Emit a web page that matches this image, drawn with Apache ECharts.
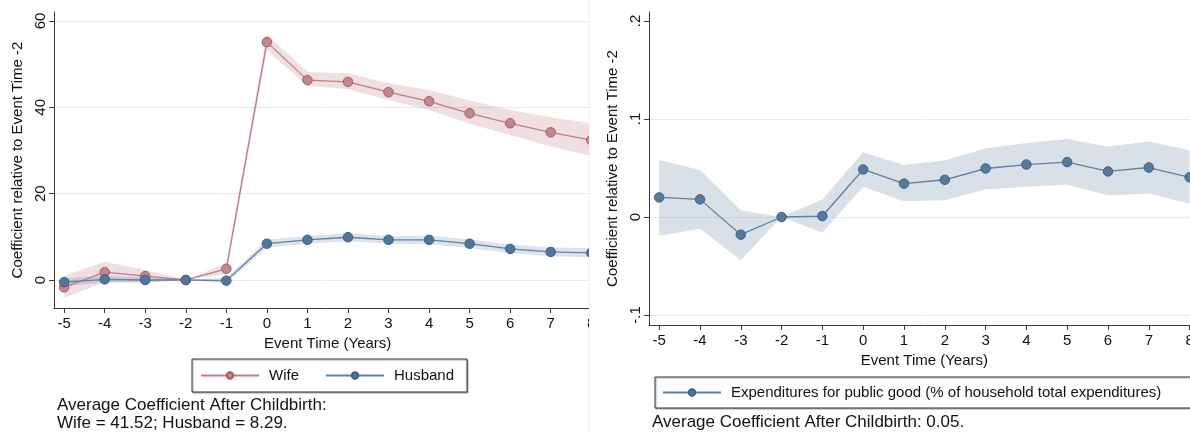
<!DOCTYPE html>
<html>
<head>
<meta charset="utf-8">
<script src="https://cdn.jsdelivr.net/npm/echarts@6/dist/echarts.min.js"></script>
<style>
  html, body { margin: 0; padding: 0; background: #fff; overflow: hidden; width: 1190px; height: 432px; }
  #leftWrap { position: absolute; left: 0; top: 0; width: 589px; height: 432px; overflow: hidden; }
  #rightWrap { position: absolute; left: 590px; top: 0; width: 600px; height: 432px; overflow: hidden; }
  #divider { position: absolute; left: 589px; top: 0; width: 1px; height: 432px; background: #f2f2f2; }
  #left { width: 640px; height: 432px; }
  #right { width: 660px; height: 432px; }
</style>
</head>
<body>
<div id="leftWrap"><div id="left"></div></div>
<div id="divider"></div>
<div id="rightWrap"><div id="right"></div></div>
<script>
// Event-study estimates, relative to event time -2
const eventTime = [-5, -4, -3, -2, -1, 0, 1, 2, 3, 4, 5, 6, 7, 8];

// Panel A: wife vs husband (point estimate and 95% CI)
const wifeCoef  = [-1.7, 1.8, 0.9, 0, 2.6, 55.1, 46.3, 45.9, 43.5, 41.4, 38.6, 36.3, 34.2, 32.4];
const wifeLow   = [-4.1, -0.5, -0.4, 0, 1.3, 53.3, 45.0, 44.2, 41.7, 39.4, 36.2, 33.6, 30.9, 28.7];
const wifeHigh  = [1.0, 4.2, 2.3, 0, 3.9, 56.9, 48.2, 47.9, 45.6, 44.0, 41.6, 39.4, 37.7, 36.3];
const husbandCoef = [-0.5, 0.15, 0.0, 0, -0.15, 8.4, 9.3, 9.9, 9.3, 9.3, 8.4, 7.2, 6.5, 6.3];
const husbandLow  = [-1.4, -0.6, -0.7, 0, -0.8, 7.5, 8.4, 9.0, 8.4, 8.3, 7.4, 6.2, 5.5, 5.2];
const husbandHigh = [0.4, 0.9, 0.7, 0, 0.5, 9.3, 10.2, 10.8, 10.2, 10.3, 9.4, 8.2, 7.5, 7.4];

// Panel B: public-good expenditure share
const publicCoef = [0.020, 0.018, -0.018, 0, 0.001, 0.0485, 0.034, 0.038, 0.0495, 0.0535, 0.056, 0.0465, 0.0505, 0.0405];
const publicLow  = [-0.019, -0.012, -0.044, 0, -0.016, 0.031, 0.016, 0.017, 0.028, 0.031, 0.033, 0.022, 0.024, 0.0135];
const publicHigh = [0.058, 0.048, 0.007, 0, 0.018, 0.066, 0.053, 0.058, 0.070, 0.0755, 0.0795, 0.072, 0.077, 0.068];

// Axis ticks
const xTicks = [-5, -4, -3, -2, -1, 0, 1, 2, 3, 4, 5, 6, 7, 8];
const leftYTicks = [0, 20, 40, 60];
const rightYTicks = [-0.1, 0, 0.1, 0.2];
const rightYGrid = [-0.1, 0, 0.1];

const FONT = "'Liberation Sans', Arial, Helvetica, sans-serif";
const INK = '#111';
const AXIS = '#3a3a3a';
const GRID = '#e3ecee';

function postMean(values) {
  const post = values.filter((v, i) => eventTime[i] >= 0);
  return (post.reduce((a, b) => a + b, 0) / post.length).toFixed(2);
}

function pairs(values) {
  return eventTime.map((x, i) => [x, values[i]]);
}

// Shaded confidence band between the low and high bounds
function band(low, high, fill) {
  return {
    type: 'custom',
    silent: true,
    clip: true,
    z: 1,
    data: [[eventTime[0], low[0]]],
    renderItem(params, api) {
      const upper = eventTime.map((x, i) => api.coord([x, high[i]]));
      const lower = eventTime.map((x, i) => api.coord([x, low[i]])).reverse();
      return { type: 'polygon', shape: { points: upper.concat(lower) }, style: { fill: fill } };
    }
  };
}

function line(name, values, lineColor, fill, border) {
  return {
    name: name,
    type: 'line',
    z: 3,
    data: pairs(values),
    symbol: 'circle',
    symbolSize: 9.5,
    lineStyle: { color: lineColor, width: 1.3 },
    itemStyle: { color: fill, borderColor: border, borderWidth: 1 },
    emphasis: { disabled: true }
  };
}

function xAxis(nameGap) {
  return {
    type: 'value',
    min: -5.25,
    max: 8.25,
    name: 'Event Time (Years)',
    nameLocation: 'middle',
    nameGap: nameGap,
    nameTextStyle: { fontFamily: FONT, fontSize: 15, color: INK },
    axisLine: { show: true, onZero: false, lineStyle: { color: AXIS, width: 1 } },
    axisTick: { show: true, length: 5, customValues: xTicks, lineStyle: { color: AXIS } },
    axisLabel: { customValues: xTicks, margin: 8, fontFamily: FONT, fontSize: 15, color: INK },
    splitLine: { show: false }
  };
}

function yName() {
  return {
    name: 'Coefficient relative to Event Time -2',
    nameLocation: 'middle',
    nameRotate: 90,
    nameTextStyle: { fontFamily: FONT, fontSize: 15, color: INK }
  };
}

function legendBox(left, top, padding, gap) {
  return {
    left: left,
    top: top,
    orient: 'horizontal',
    padding: padding,
    itemWidth: 58,
    itemHeight: 8,
    itemGap: gap,
    borderColor: '#333',
    borderWidth: 1,
    borderRadius: 0,
    backgroundColor: '#fff',
    shadowColor: 'rgba(0,0,0,0.35)',
    shadowOffsetX: 1,
    shadowOffsetY: 1,
    shadowBlur: 1,
    selectedMode: false,
    textStyle: { fontFamily: FONT, fontSize: 15, color: INK, padding: [0, 0, 0, 5] }
  };
}

// Panel A
const leftChart = echarts.init(document.getElementById('left'), null, { renderer: 'canvas' });
leftChart.setOption({
  animation: false,
  backgroundColor: '#fff',
  grid: { left: 54, top: 12, width: 547.4, height: 296 },
  xAxis: xAxis(26),
  yAxis: Object.assign(yName(), {
    type: 'value',
    min: -6.49,
    max: 62.08,
    nameGap: 28,
    axisLine: { show: true, onZero: false, lineStyle: { color: AXIS, width: 1 } },
    axisTick: { show: true, length: 5, customValues: leftYTicks, lineStyle: { color: AXIS } },
    axisLabel: { customValues: leftYTicks, rotate: 90, margin: 6, fontFamily: FONT, fontSize: 15, color: INK },
    splitLine: { show: true, lineStyle: { color: GRID, width: 1 } }
  }),
  legend: Object.assign(legendBox(192, 359, [9, 13, 9, 8], 26), { data: ['Wife', 'Husband'] }),
  title: {
    text: 'Average Coefficient After Childbirth:\nWife = ' + postMean(wifeCoef) + '; Husband = ' + postMean(husbandCoef) + '.',
    left: 57,
    top: 396,
    padding: 0,
    textStyle: { fontFamily: FONT, fontSize: 17, fontWeight: 'normal', color: INK, lineHeight: 18 }
  },
  series: [
    band(wifeLow, wifeHigh, 'rgba(180, 110, 118, 0.22)'),
    band(husbandLow, husbandHigh, 'rgba(80, 115, 155, 0.20)'),
    line('Wife', wifeCoef, '#bd7e85', '#c4868d', '#a65c64'),
    line('Husband', husbandCoef, '#5f82a6', '#50769c', '#3c5f86')
  ]
});

// Panel B
const rightChart = echarts.init(document.getElementById('right'), null, { renderer: 'canvas' });
rightChart.setOption({
  animation: false,
  backgroundColor: '#fff',
  grid: { left: 59, top: 12, width: 550.8, height: 313 },
  xAxis: xAxis(26),
  yAxis: [
    Object.assign(yName(), {
      type: 'value',
      min: -0.1102,
      max: 0.2092,
      nameGap: 27,
      axisLine: { show: true, onZero: false, lineStyle: { color: AXIS, width: 1 } },
      axisTick: { show: true, length: 5, customValues: rightYTicks, lineStyle: { color: AXIS } },
      axisLabel: {
        customValues: rightYTicks, rotate: 90, margin: 6, fontFamily: FONT, fontSize: 15, color: INK,
        formatter: v => (v === 0 ? '0' : String(v).replace('0.', '.'))
      },
      splitLine: { show: false }
    }),
    {
      type: 'value',
      min: -0.1102,
      max: 0.2092,
      axisLine: { show: false, onZero: false },
      axisTick: { show: false, customValues: rightYGrid },
      axisLabel: { show: false, customValues: rightYGrid },
      splitLine: { show: true, lineStyle: { color: GRID, width: 1 } }
    }
  ],
  legend: Object.assign(legendBox(65, 377, [8, 40, 8, 7], 20), {
    data: ['Expenditures for public good (% of household total expenditures)']
  }),
  title: {
    text: 'Average Coefficient After Childbirth: ' + postMean(publicCoef) + '.',
    left: 62,
    top: 414,
    padding: 0,
    textStyle: { fontFamily: FONT, fontSize: 17, fontWeight: 'normal', color: INK }
  },
  series: [
    band(publicLow, publicHigh, 'rgba(85, 115, 150, 0.22)'),
    line('Expenditures for public good (% of household total expenditures)', publicCoef, '#5f80a2', '#56799d', '#3d6087')
  ]
});
</script>
</body>
</html>
